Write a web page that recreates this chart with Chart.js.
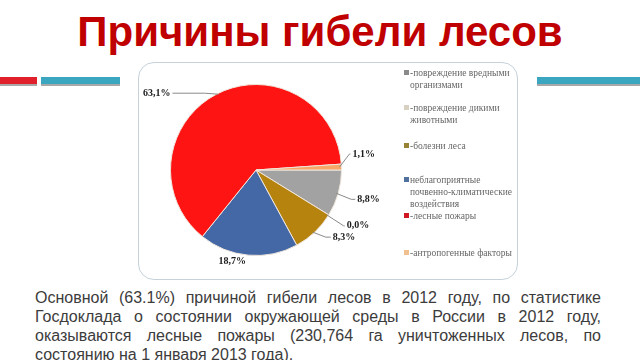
<!DOCTYPE html>
<html><head><meta charset="utf-8">
<script src="https://cdn.jsdelivr.net/npm/chart.js@4"></script>
<style>
html,body{margin:0;padding:0;background:#fff;}
body{width:640px;height:360px;position:relative;overflow:hidden;font-family:"Liberation Sans",Arial,sans-serif;}
#title{position:absolute;left:0;top:10px;width:640px;text-align:center;font-weight:bold;font-size:42px;line-height:44px;color:#c00000;}
.bar{position:absolute;height:7px;border-bottom:2px solid #a8a8a8;}
#box{position:absolute;left:138px;top:62px;width:378px;height:216px;border:1.5px solid #c5d2da;border-radius:16px;background:#fff;}
#cv{position:absolute;left:138px;top:62px;}
.lg{position:absolute;left:404px;width:110px;font-family:"Liberation Serif",serif;font-size:9.5px;line-height:12px;color:#666;}
.lg i{position:absolute;left:0;top:3px;width:5px;height:5px;}
.lg span{display:block;padding-left:6px;}
#txt{position:absolute;left:35px;top:288px;width:566px;font-size:16px;line-height:19px;color:#3c3c3c;text-align:justify;}
</style></head>
<body>
<div id="title">Причины гибели лесов</div>
<div class="bar" style="left:0;width:37px;top:77px;background:#e0202a;"></div>
<div class="bar" style="left:41px;width:79px;top:77px;background:#3aa6c0;"></div>
<div class="bar" style="left:537px;width:103px;top:77px;background:#3aa6c0;"></div>
<div id="box"></div>
<canvas id="cv" width="380" height="218"></canvas>
<div id="legend"></div>
<div id="txt">Основной (63.1%) причиной гибели лесов в 2012 году, по статистике Госдоклада о состоянии окружающей среды в России в 2012 году, оказываются лесные пожары (230,764 га уничтоженных лесов, по состоянию на 1 января 2013 года).</div>
<script>
const categories = [
  "-повреждение вредными организмами",
  "-повреждение дикими животными",
  "-болезни леса",
  "неблагоприятные почвенно-климатические воздействия",
  "-лесные пожары",
  "-антропогенные факторы"
];
const values = [8.8, 0.0, 8.3, 18.7, 63.1, 1.1];
const valueLabels = ["8,8%", "0,0%", "8,3%", "18,7%", "63,1%", "1,1%"];

const sliceColors = ["#a2a2a2", "#d9d2c4", "#b7830f", "#4468a6", "#ff1414", "#f7a868"];
const legendColors = ["#8a8a8a", "#d8d0c0", "#9a8234", "#50709e", "#d01822", "#f0c090"];
const legendTops = [67, 102, 140, 174, 210, 247];

// legend
const lg = document.getElementById('legend');
categories.forEach((c, i) => {
  const d = document.createElement('div');
  d.className = 'lg';
  d.style.top = legendTops[i] + 'px';
  d.innerHTML = '<i style="background:' + legendColors[i] + '"></i><span></span>';
  d.querySelector('span').textContent = c;
  lg.appendChild(d);
});

// guides: [dx, dy, horizontal length, mode]
const guides = [
  [13, 6, 4, 'r'],
  [15, 11, 1, 'r'],
  [11, 5, 5, 'r'],
  [-16, 6, 0, 'c'],
  [-12, -1, 32, 'l'],
  [8, -13, 1, 'r']
];

const labelPlugin = {
  id: 'sliceLabels',
  afterDatasetsDraw(chart) {
    const ctx = chart.ctx;
    const meta = chart.getDatasetMeta(0);
    ctx.save();
    ctx.font = 'bold 10px "Liberation Serif", serif';
    ctx.fillStyle = '#1a1a1a';
    ctx.strokeStyle = '#8a8a8a';
    ctx.lineWidth = 1;
    ctx.textBaseline = 'middle';
    meta.data.forEach((arc, i) => {
      const p = arc.getProps(['x', 'y', 'startAngle', 'endAngle', 'outerRadius'], true);
      const mid = (p.startAngle + p.endAngle) / 2;
      const ex = p.x + Math.cos(mid) * p.outerRadius;
      const ey = p.y + Math.sin(mid) * p.outerRadius;
      const g = guides[i];
      const bx = ex + g[0], by = ey + g[1];
      if (g[3] === 'c') {
        ctx.textAlign = 'center';
        ctx.fillText(valueLabels[i], bx, by);
        return;
      }
      const dir = g[3] === 'l' ? -1 : 1;
      const hx = bx + dir * g[2];
      ctx.beginPath();
      ctx.moveTo(ex - dir * 2, ey);
      ctx.lineTo(bx, by);
      ctx.lineTo(hx, by);
      ctx.stroke();
      ctx.textAlign = dir < 0 ? 'right' : 'left';
      ctx.fillText(valueLabels[i], hx + dir * 2, by);
    });
    ctx.restore();
  }
};

new Chart(document.getElementById('cv'), {
  type: 'pie',
  data: {
    labels: categories,
    datasets: [{
      data: values,
      backgroundColor: sliceColors,
      borderColor: '#efe6dc',
      borderWidth: 1
    }]
  },
  options: {
    responsive: false,
    animation: false,
    rotation: 90,
    layout: { padding: { left: 32, top: 22, right: 176, bottom: 24 } },
    plugins: { legend: { display: false }, tooltip: { enabled: false } }
  },
  plugins: [labelPlugin]
});
</script>
</body></html>
